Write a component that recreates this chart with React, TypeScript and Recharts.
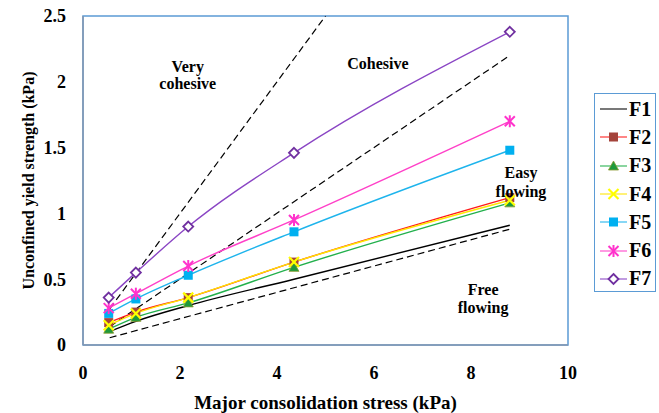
import React from 'react'
import { LineChart, Line, XAxis, YAxis, ReferenceArea, ReferenceDot, Legend } from 'recharts'

// consolidation stress points shared by every powder
const stressX = [0.53, 1.09, 2.17, 4.35, 8.8]

const f1 = [0.1, 0.18, 0.3, 0.5, 0.91]
const f2 = [0.17, 0.25, 0.36, 0.63, 1.12]
const f3 = [0.12, 0.21, 0.32, 0.59, 1.08]
const f4 = [0.15, 0.24, 0.36, 0.63, 1.1]
const f5 = [0.24, 0.35, 0.53, 0.86, 1.48]
const f6 = [0.28, 0.39, 0.6, 0.95, 1.7]
const f7 = [0.36, 0.55, 0.9, 1.46, 2.38]

// flow function boundary lines (dashed)
const veryCohesiveX = [0.55, 5.0]
const veryCohesiveY = [0.275, 2.5]
const cohesiveX = [0.55, 8.8]
const cohesiveY = [0.14, 2.2]
const freeFlowX = [0.55, 8.8]
const freeFlowY = [0.055, 0.88]

const xTicks = [0, 2, 4, 6, 8, 10]
const yTicks = [0, 0.5, 1, 1.5, 2, 2.5]

const noteText = ['Very', 'cohesive', 'Cohesive', 'Easy', 'flowing', 'Free', 'flowing']
const noteX = [2.16, 2.16, 6.08, 9.03, 9.03, 8.25, 8.25]
const noteY = [2.12, 1.99, 2.14, 1.31, 1.17, 0.425, 0.29]

const FONT = '"Liberation Serif", "Times New Roman", serif'

const toPoints = (xs: number[], ys: number[]) => xs.map((x, i) => ({ x, y: ys[i] }))

type Kind = 'none' | 'square' | 'triangle' | 'cross' | 'star' | 'diamond'

const series: { name: string; values: number[]; color: string; marker: Kind; markerColor: string }[] = [
    { name: 'F1', values: f1, color: '#000000', marker: 'none', markerColor: '#000000' },
    { name: 'F2', values: f2, color: '#ff1a1a', marker: 'square', markerColor: '#a4433b' },
    { name: 'F3', values: f3, color: '#22b04c', marker: 'triangle', markerColor: '#1e9a3c' },
    { name: 'F4', values: f4, color: '#ffe600', marker: 'cross', markerColor: '#ffff00' },
    { name: 'F5', values: f5, color: '#1eb4ec', marker: 'square', markerColor: '#00b0f0' },
    { name: 'F6', values: f6, color: '#ff40c8', marker: 'star', markerColor: '#ff33cc' },
    { name: 'F7', values: f7, color: '#8a45c4', marker: 'diamond', markerColor: '#7030a0' },
]

const Marker = ({ kind, cx, cy, color }: { kind: Kind; cx: number; cy: number; color: string }) => {
    if (kind === 'square') return <rect x={cx - 4.5} y={cy - 4.5} width={9} height={9} fill={color} />
    if (kind === 'triangle')
        return <polygon points={`${cx},${cy - 5} ${cx + 5},${cy + 4} ${cx - 5},${cy + 4}`} fill={color} stroke="#8a9a30" strokeWidth={0.8} />
    if (kind === 'cross')
        return (
            <g stroke={color} strokeWidth={2.2}>
                <line x1={cx - 5} y1={cy - 5} x2={cx + 5} y2={cy + 5} />
                <line x1={cx - 5} y1={cy + 5} x2={cx + 5} y2={cy - 5} />
            </g>
        )
    if (kind === 'star')
        return (
            <g stroke={color} strokeWidth={2}>
                <line x1={cx - 5} y1={cy - 5} x2={cx + 5} y2={cy + 5} />
                <line x1={cx - 5} y1={cy + 5} x2={cx + 5} y2={cy - 5} />
                <line x1={cx} y1={cy - 6} x2={cx} y2={cy + 6} />
            </g>
        )
    if (kind === 'diamond')
        return <polygon points={`${cx},${cy - 5} ${cx + 5},${cy} ${cx},${cy + 5} ${cx - 5},${cy}`} fill="#fff" stroke={color} strokeWidth={1.8} />
    return null
}

const LegendBox = () => (
    <div style={{ border: '1.5px solid #5b9bd5', width: 62, height: 199, boxSizing: 'border-box', background: '#fff', paddingTop: 1 }}>
        {series.map(s => (
            <div key={s.name} style={{ display: 'flex', alignItems: 'center', height: 28.3 }}>
                <svg width={34} height={20} style={{ flex: 'none' }}>
                    <line x1={5} y1={10} x2={32} y2={10} stroke={s.color} strokeWidth={1.5} opacity={0.7} />
                    <Marker kind={s.marker} cx={18.5} cy={10} color={s.markerColor} />
                </svg>
                <span style={{ fontFamily: FONT, fontWeight: 'bold', fontSize: 20, color: '#000', marginLeft: 0 }}>{s.name}</span>
            </div>
        ))}
    </div>
)

const YTitle = ({ viewBox }: any) => {
    const cy = viewBox.y + viewBox.height / 2
    return (
        <text x={28} y={cy} transform={`rotate(-90 28 ${cy})`} textAnchor="middle" dominantBaseline="central"
            style={{ fontFamily: FONT, fontWeight: 'bold', fontSize: 16 }} fill="#000">
            Unconfined yield strength (kPa)
        </text>
    )
}

const tickStyle = { fontFamily: FONT, fontWeight: 'bold', fontSize: 18, fill: '#000' }

const App = () => {
    return (
        <div style={{ position: 'absolute', left: 0, top: 0, background: '#fff' }}>
            <LineChart width={659} height={413} margin={{ top: 16, right: 91, bottom: 0, left: 0 }}>
                <ReferenceArea x1={0} x2={10} y1={0} y2={2.5} fill="none" fillOpacity={0} stroke="#5b9bd5" strokeWidth={1.5} />
                <XAxis
                    type="number"
                    dataKey="x"
                    domain={[0, 10]}
                    ticks={xTicks}
                    height={68}
                    tickSize={0}
                    tickMargin={21}
                    tick={tickStyle}
                    axisLine={{ stroke: '#8497b0', strokeWidth: 1.5 }}
                    label={{ value: 'Major consolidation stress (kPa)', position: 'insideBottom', offset: 4, style: { fontFamily: FONT, fontWeight: 'bold', fontSize: 19, fill: '#000' } }}
                />
                <YAxis
                    type="number"
                    domain={[0, 2.5]}
                    ticks={yTicks}
                    width={83}
                    tickSize={0}
                    tickMargin={17}
                    tick={tickStyle}
                    axisLine={{ stroke: '#8497b0', strokeWidth: 1.5 }}
                    label={{ value: 'Unconfined yield strength (kPa)', content: <YTitle /> }}
                />
                <Line data={toPoints(veryCohesiveX, veryCohesiveY)} dataKey="y" stroke="#000" strokeWidth={1.2} strokeDasharray="7 4" dot={false} isAnimationActive={false} legendType="none" />
                <Line data={toPoints(cohesiveX, cohesiveY)} dataKey="y" stroke="#000" strokeWidth={1.2} strokeDasharray="7 4" dot={false} isAnimationActive={false} legendType="none" />
                <Line data={toPoints(freeFlowX, freeFlowY)} dataKey="y" stroke="#000" strokeWidth={1.2} strokeDasharray="7 4" dot={false} isAnimationActive={false} legendType="none" />
                {series.map(s => (
                    <Line
                        key={s.name}
                        name={s.name}
                        data={toPoints(stressX, s.values)}
                        dataKey="y"
                        type="monotone"
                        stroke={s.color}
                        strokeWidth={1.4}
                        dot={(p: any) => <Marker key={`${s.name}-${p.index}`} kind={s.marker} cx={p.cx} cy={p.cy} color={s.markerColor} />}
                        activeDot={false}
                        isAnimationActive={false}
                    />
                ))}
                {noteText.map((t, i) => (
                    <ReferenceDot key={i} x={noteX[i]} y={noteY[i]} r={0} stroke="none" fill="none"
                        label={{ value: t, position: 'center', style: { fontFamily: FONT, fontWeight: 'bold', fontSize: 16, fill: '#000' } }} />
                ))}
                <Legend
                    layout="vertical"
                    align="center"
                    verticalAlign="middle"
                    wrapperStyle={{ left: 594, top: 93, width: 62, height: 199 }}
                    content={<LegendBox />}
                />
            </LineChart>
        </div>
    )
}

export default App
